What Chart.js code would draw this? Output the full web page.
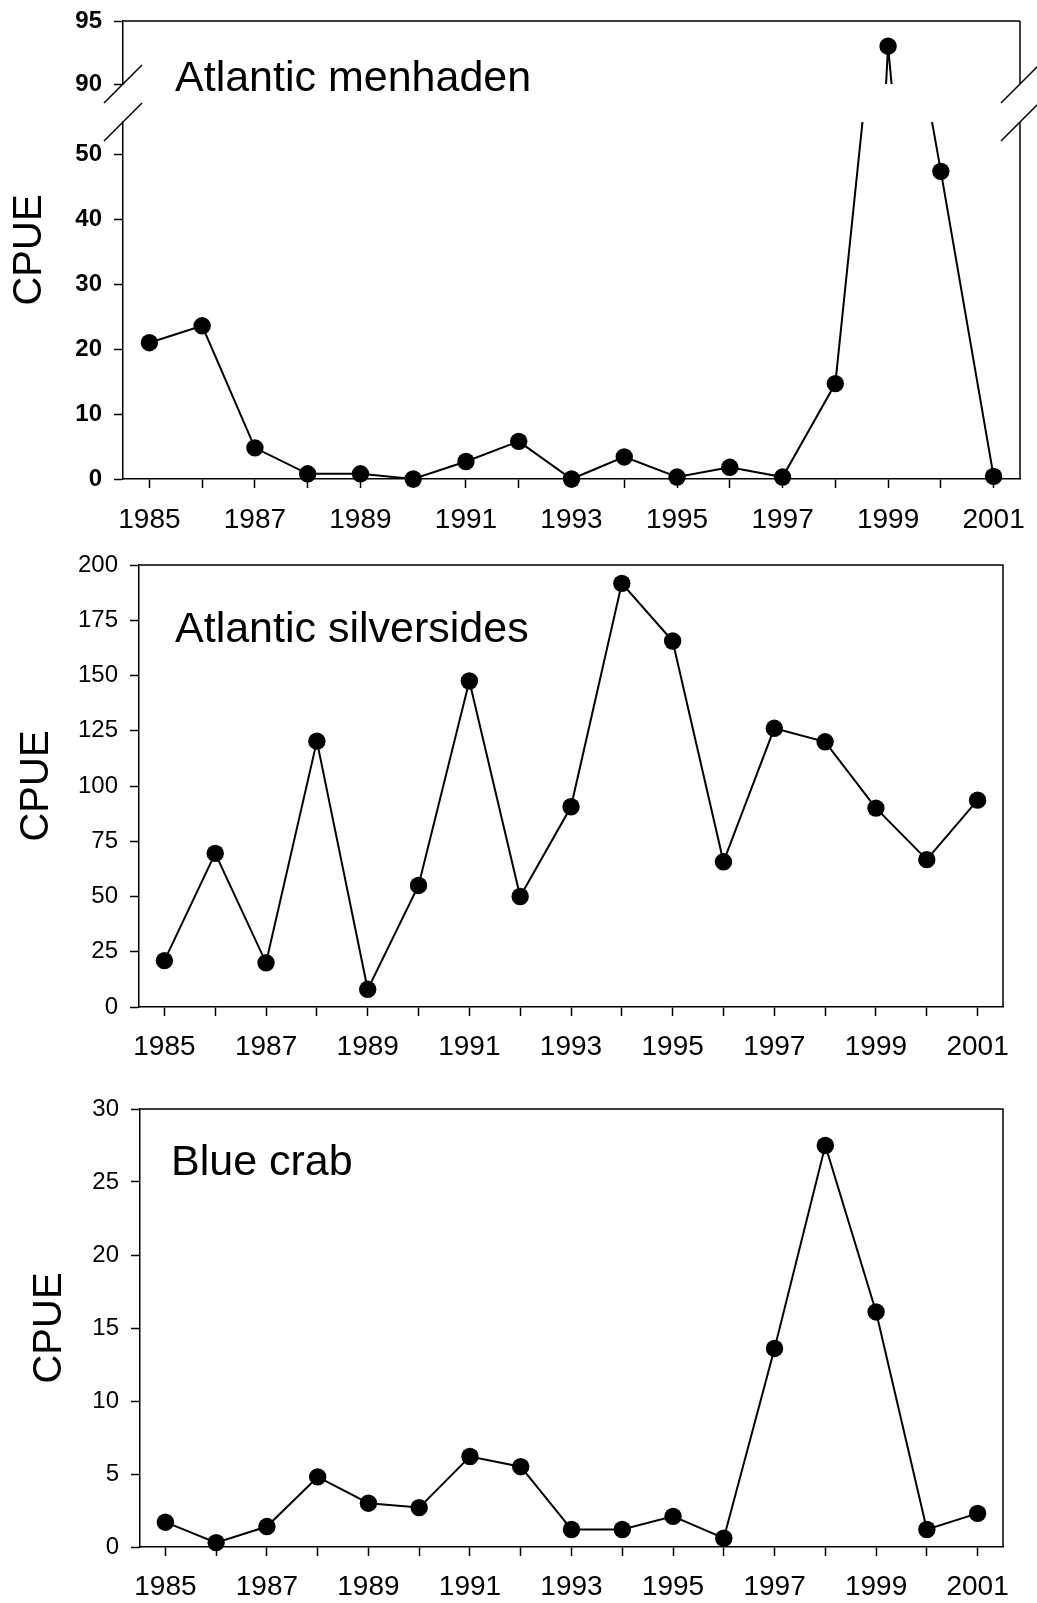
<!DOCTYPE html>
<html>
<head>
<meta charset="utf-8">
<script src="https://cdn.jsdelivr.net/npm/chart.js@4.4.1/dist/chart.umd.min.js"></script>
<style>
html,body{margin:0;padding:0;background:#fff;}
#wrap{position:relative;width:1037px;height:1603px;}
.panel{position:absolute;left:0;width:1037px;}
</style>
</head>
<body>
<div id="wrap">
  <div class="panel" style="top:0;height:540px"><canvas id="c1"></canvas></div>
  <div class="panel" style="top:540px;height:540px"><canvas id="c2"></canvas></div>
  <div class="panel" style="top:1080px;height:523px"><canvas id="c3"></canvas></div>
</div>
<script>
// data (CPUE by year)
const years = [1985,1986,1987,1988,1989,1990,1991,1992,1993,1994,1995,1996,1997,1998,1999,2000,2001];
const menhaden = [21, 23.6, 4.8, 0.8, 0.8, 0, 2.7, 5.8, 0, 3.4, 0.3, 1.8, 0.3, 14.7, 93, 47.4, 0.4];
const silversides = [21, 69.5, 20, 120.3, 8, 55, 147.5, 50, 90.6, 191.7, 165.6, 65.7, 126.1, 120, 90, 66.7, 93.6];
const blueCrab = [1.7, 0.3, 1.4, 4.8, 3.0, 2.7, 6.2, 5.5, 1.2, 1.2, 2.1, 0.6, 13.6, 27.5, 16.1, 1.2, 2.3];

const speciesNames = ['Atlantic menhaden', 'Atlantic silversides', 'Blue crab'];
const yTitle = 'CPUE';

// y ranges [min, max, step]
const menhadenLow = [0, 55, 10];
const menhadenHigh = [90, 95, 5];
const silversidesRange = [0, 200, 25];
const blueCrabRange = [0, 30, 5];

const FONT = "'Liberation Sans', Arial, sans-serif";
const INK = '#000';

function xAxis(h, pad){
  return {
    type:'category', offset:true,
    grid:{drawOnChartArea:false, color:INK, tickLength:9, tickWidth:1.5},
    border:{color:INK, width:1.5},
    ticks:{color:INK, font:{family:FONT, size:28}, padding:pad, autoSkip:false, maxRotation:0,
      callback:function(v, i){ const y = years[i]; return y % 2 ? String(y) : ''; }},
    afterFit:s=>{ s.height = h; s.paddingLeft = 0; s.paddingRight = 0; }
  };
}

function yAxis(range, w, bold, extra){
  return Object.assign({
    type:'linear', position:'left', min:range[0], max:range[1],
    grid:{drawOnChartArea:false, color:INK, tickLength:9, tickWidth:1.5},
    border:{color:INK, width:1.5},
    ticks:{stepSize:range[2], includeBounds:false, color:INK, padding:12,
      font:{family:FONT, size:24, weight:bold ? 'bold' : 'normal'}},
    afterFit:s=>{ s.width = w; s.paddingTop = 0; s.paddingBottom = 0; }
  }, extra || {});
}

function lineSet(data, axis, clip){
  return {
    data:data, yAxisID:axis, borderColor:INK, borderWidth:2, tension:0,
    pointRadius:8.7, pointBackgroundColor:INK, pointBorderWidth:0, clip:clip
  };
}

// species name + rotated CPUE label
function labelPlugin(name, dx, dy, titleX){
  return {
    id:'labels',
    afterDraw(chart){
      const a = chart.chartArea, ctx = chart.ctx;
      ctx.save();
      ctx.fillStyle = INK;
      ctx.font = '43px ' + FONT;
      ctx.textBaseline = 'alphabetic';
      ctx.textAlign = 'left';
      ctx.fillText(name, a.left + dx, a.top + dy);
      ctx.translate(titleX, (a.top + a.bottom) / 2);
      ctx.rotate(-Math.PI / 2);
      ctx.font = '40px ' + FONT;
      ctx.textAlign = 'center';
      ctx.textBaseline = 'middle';
      ctx.fillText(yTitle, 0, 0);
      ctx.restore();
    }
  };
}

// top + right frame lines
const framePlugin = {
  id:'frame',
  afterDraw(chart){
    const a = chart.chartArea, ctx = chart.ctx;
    ctx.save();
    ctx.strokeStyle = INK; ctx.lineWidth = 1.5;
    ctx.beginPath();
    ctx.moveTo(a.left, a.top); ctx.lineTo(a.right, a.top);
    ctx.lineTo(a.right, a.bottom);
    ctx.stroke();
    ctx.restore();
  }
};

// frame with an axis break for the menhaden panel
const breakFramePlugin = {
  id:'breakFrame',
  afterDraw(chart){
    const a = chart.chartArea, ctx = chart.ctx;
    const hi = chart.scales.yHigh, lo = chart.scales.yLow;
    ctx.save();
    ctx.strokeStyle = INK; ctx.lineWidth = 1.5;
    ctx.beginPath();
    ctx.moveTo(a.left, a.top); ctx.lineTo(a.right, a.top);
    ctx.moveTo(a.right, hi.top); ctx.lineTo(a.right, hi.bottom);
    ctx.moveTo(a.right, lo.top); ctx.lineTo(a.right, lo.bottom);
    [a.left, a.right].forEach(x=>{
      [hi.bottom, lo.top].forEach(y=>{
        ctx.moveTo(x - 19, y + 19); ctx.lineTo(x + 19, y - 19);
      });
    });
    ctx.stroke();
    ctx.restore();
  }
};

const baseOptions = {
  responsive:true, maintainAspectRatio:false, animation:false, events:[],
  plugins:{legend:{display:false}, tooltip:{enabled:false}}
};

// panel 1: Atlantic menhaden, broken y axis
new Chart(document.getElementById('c1'), {
  type:'line',
  data:{labels:years, datasets:[
    lineSet(menhaden, 'yLow', {left:20, right:20, top:0, bottom:20}),
    lineSet(menhaden, 'yHigh', {left:20, right:20, top:20, bottom:0})
  ]},
  options:Object.assign({}, baseOptions, {
    layout:{padding:{top:21, right:17, bottom:0, left:0}},
    scales:{
      x:xAxis(61, 15),
      yLow:yAxis(menhadenLow, 123, true, {stack:'y', stackWeight:357}),
      yGap:{type:'linear', position:'left', stack:'y', stackWeight:38,
        grid:{display:false}, ticks:{display:false}, border:{display:false},
        afterFit:s=>{ s.width = 123; s.paddingTop = 0; s.paddingBottom = 0; }},
      yHigh:yAxis(menhadenHigh, 123, true, {stack:'y', stackWeight:63})
    }
  }),
  plugins:[breakFramePlugin, labelPlugin(speciesNames[0], 52, 70, 30)]
});

// panel 2: Atlantic silversides
new Chart(document.getElementById('c2'), {
  type:'line',
  data:{labels:years, datasets:[lineSet(silversides, 'y', false)]},
  options:Object.assign({}, baseOptions, {
    layout:{padding:{top:25, right:34, bottom:0, left:0}},
    scales:{x:xAxis(73, 14), y:yAxis(silversidesRange, 139, false)}
  }),
  plugins:[framePlugin, labelPlugin(speciesNames[1], 36, 77, 37)]
});

// panel 3: Blue crab
new Chart(document.getElementById('c3'), {
  type:'line',
  data:{labels:years, datasets:[lineSet(blueCrab, 'y', false)]},
  options:Object.assign({}, baseOptions, {
    layout:{padding:{top:29, right:34, bottom:0, left:0}},
    scales:{x:xAxis(56, 14), y:yAxis(blueCrabRange, 140, false)}
  }),
  plugins:[framePlugin, labelPlugin(speciesNames[2], 31, 66, 50)]
});
</script>
</body>
</html>
